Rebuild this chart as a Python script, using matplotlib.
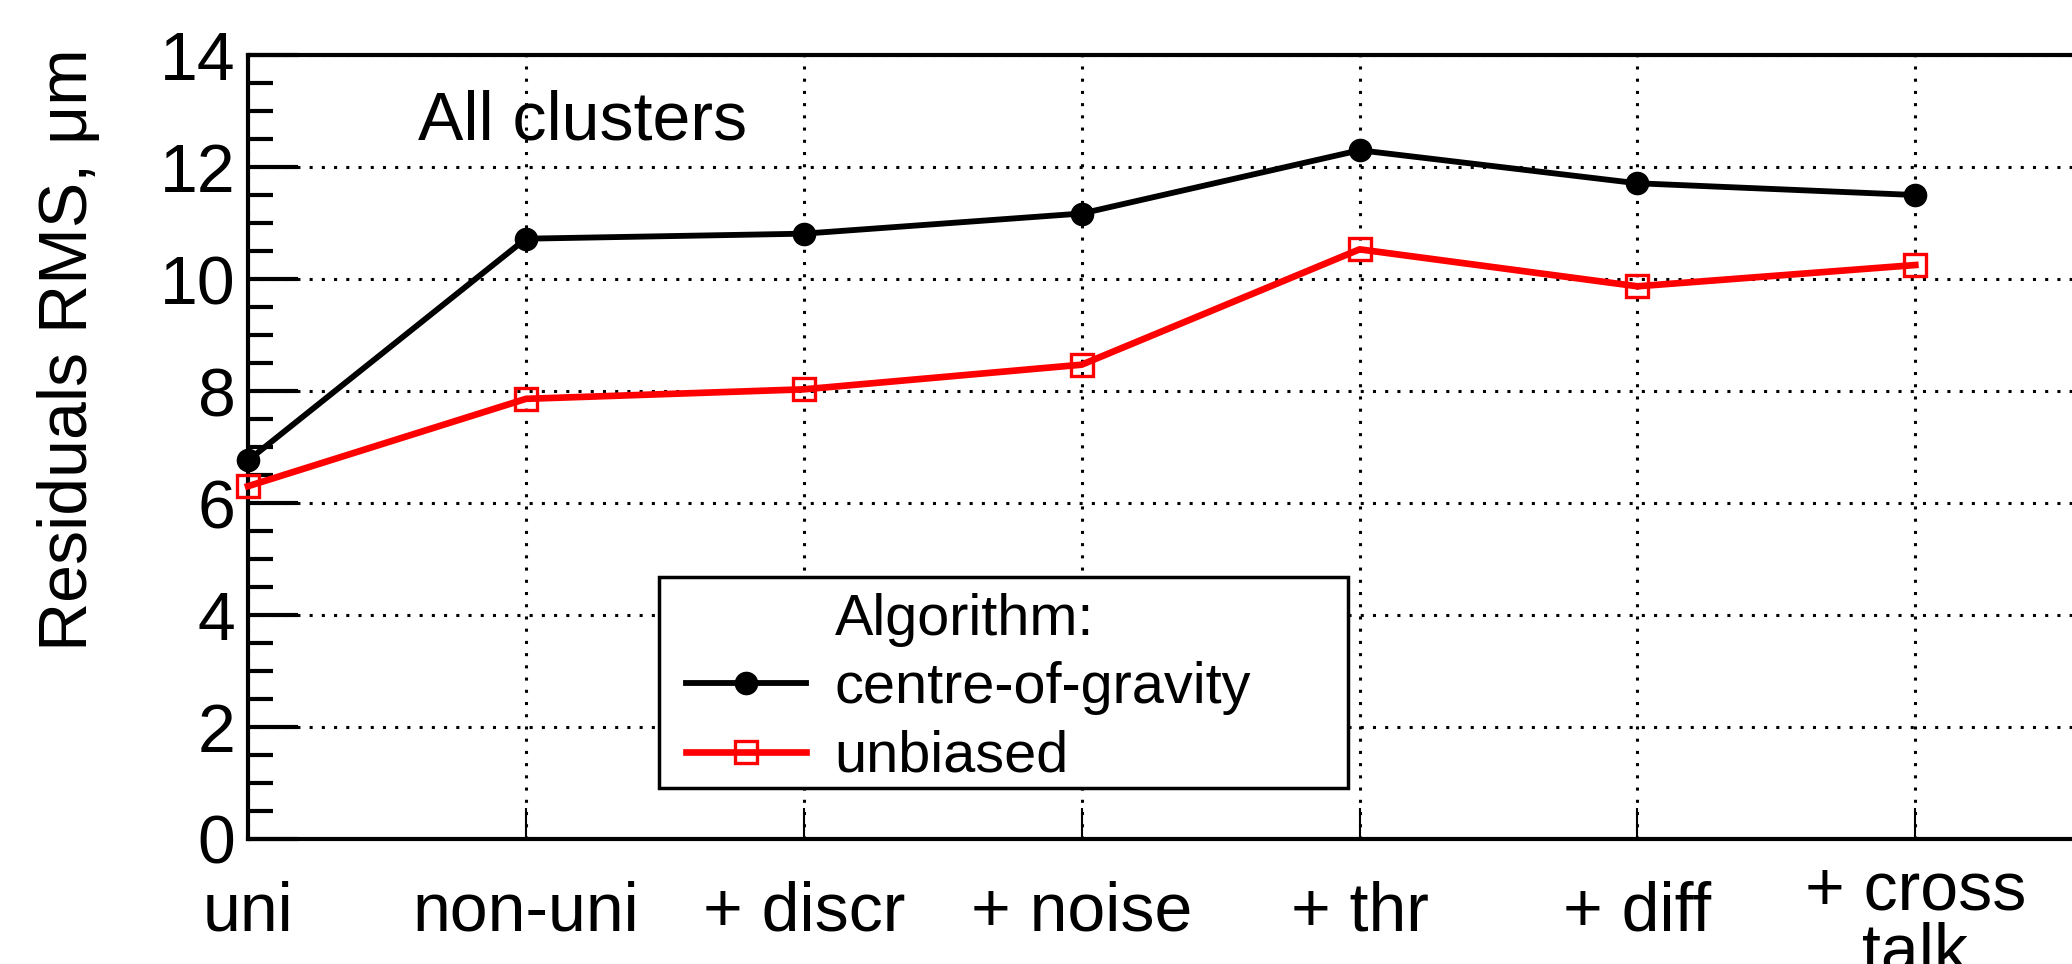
import numpy as np
import matplotlib.pyplot as plt
from matplotlib.lines import Line2D
from matplotlib.patches import Rectangle
from matplotlib.ticker import MultipleLocator

# Dati
steps = ['uni', 'non-uni', '+ discr', '+ noise', '+ thr', '+ diff', '+ cross\ntalk']
cog = [6.76, 10.72, 10.81, 11.17, 12.30, 11.71, 11.50]
unbiased = [6.30, 7.86, 8.03, 8.47, 10.53, 9.87, 10.25]
leg_labels = ['Algorithm:', 'centre-of-gravity', 'unbiased']

plt.rcParams['font.family'] = ['Liberation Sans', 'DejaVu Sans']

fig = plt.figure(figsize=(20.72, 9.64), dpi=100)
ax = fig.add_axes([0.1197, 0.1297, 0.9388, 0.8132])

x = np.arange(len(steps))
stile_cog = dict(color='black', lw=4.2, marker='o', ms=16)
stile_unb = dict(color='red', lw=4.8, marker='s', ms=16, mfc='none', mew=2.4, mec='red')
ax.plot(x, cog, zorder=3, clip_on=False, **stile_cog)
ax.plot(x, unbiased, zorder=3, clip_on=False, **stile_unb)

ax.set_xlim(0, 7)
ax.set_ylim(0, 14)
ax.yaxis.set_major_locator(MultipleLocator(2))
ax.yaxis.set_minor_locator(MultipleLocator(0.5))
ax.set_xticks(x)
ax.set_xticklabels(steps, fontsize=49, linespacing=0.95)
ax.tick_params(axis='x', direction='in', length=22, width=1.5, pad=53, top=False)
ax.tick_params(axis='y', which='major', direction='in', length=36, width=3,
               labelsize=49, pad=9)
ax.tick_params(axis='y', which='minor', direction='in', length=18, width=3)
for t in ax.get_xticklabels():
    t.set_va('center')
# l'etichetta su due righe sta un po' piu' in basso
ax.get_xticklabels()[-1].set_y(-0.0125)
for s in ax.spines.values():
    s.set_linewidth(3)

ax.grid(True, which='major', color='black', lw=2.2, ls=(0, (1, 3)))
ax.set_axisbelow(True)

ax.text(418 / 2072, 1 - 122 / 964, 'All clusters', transform=fig.transFigure,
        fontsize=49, ha='left', va='center')
fig.text(69 / 2072, 0.637, 'Residuals RMS, μm', rotation=90, fontsize=49,
         ha='center', va='center')

# riquadro della legenda
box = Rectangle((0.318, 0.1826), 0.3326, 0.2189, transform=fig.transFigure,
                facecolor='white', edgecolor='black', lw=2.5, zorder=4, clip_on=False)
ax.add_patch(box)
handles = [Line2D([], [], color='none'), Line2D([], [], **stile_cog),
           Line2D([], [], **stile_unb)]
leg = ax.legend(handles, leg_labels, loc='upper left',
                bbox_to_anchor=(0.331, 0.385), bbox_transform=fig.transFigure,
                fontsize=41.5, handlelength=2.08, handletextpad=0.5,
                labelspacing=0.25, borderpad=0, borderaxespad=0, frameon=False)
leg.set_zorder(5)

plt.savefig('out.png', dpi=100)
